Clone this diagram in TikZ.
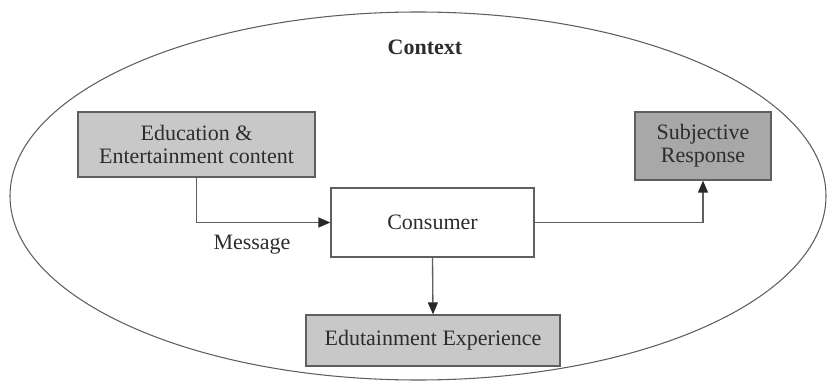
\documentclass[tikz,border=0pt]{standalone}
\usepackage{fontspec}
\setmainfont{Liberation Serif}
\usepackage{tikz}
\usetikzlibrary{arrows.meta}
\definecolor{edgegray}{RGB}{95,95,95}
\definecolor{tipgray}{RGB}{40,40,40}
\definecolor{textgray}{RGB}{45,45,45}
\definecolor{lightbox}{RGB}{200,200,200}
\definecolor{darkbox}{RGB}{168,168,168}
\tikzset{
  blockbox/.style={draw=edgegray, line width=1pt, align=center, text=textgray, inner sep=0.75pt},
  flowarrow/.style={draw=edgegray, line width=1pt, -{Triangle[length=9pt,width=7.5pt,color=tipgray]}},
}

\begin{document}
\begin{tikzpicture}[x=0.75pt,y=0.75pt,yscale=-1,font=\fontsize{16.5}{17.5}\selectfont]
    \useasboundingbox (0,0) rectangle (828,381);

    %Ellipse [context]
    \draw [color=edgegray, line width=0.8pt] (418,196) ellipse [x radius=408, y radius=184];

    % Text Node
    \node (ctx) at (425,47) [text=textgray] {\textbf{Context}};

    %Shape: Rectangle [education content]
    \node (edu) at (196.5,144.5) [blockbox, fill=lightbox, minimum width=177.75pt, minimum height=48.75pt] {Education \&\\Entertainment content};
    %Shape: Rectangle [consumer]
    \node (cons) at (432.5,222.5) [blockbox, fill=white, minimum width=152.25pt, minimum height=51.75pt] {Consumer};
    %Shape: Rectangle [subjective response]
    \node (resp) at (703,146) [blockbox, fill=darkbox, minimum width=102pt, minimum height=51pt] {Subjective\\Response};
    %Shape: Rectangle [edutainment experience]
    \node (exp) at (433,340.5) [blockbox, fill=lightbox, minimum width=190.5pt, minimum height=38.25pt] {Edutainment Experience};

    %Connectors
    \draw [flowarrow] (edu.south) |- (cons.west);
    \draw [flowarrow] (cons.east) -| (resp.south);
    \draw [flowarrow] (cons.south) -- (exp.north);

    % Text Node
    \node (msg) at (252,245) [text=textgray] {Message};

\end{tikzpicture}
\end{document}
